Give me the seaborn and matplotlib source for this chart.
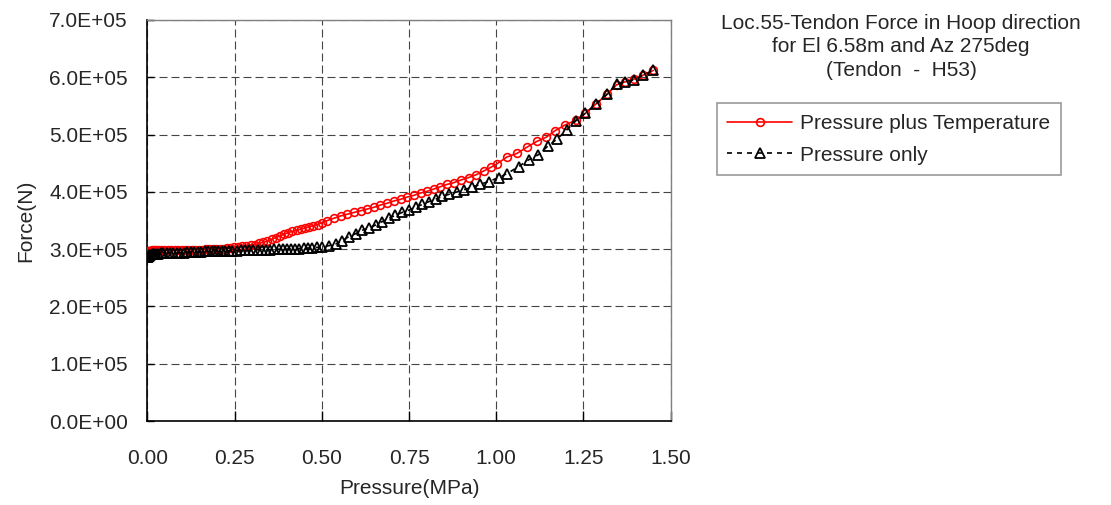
import matplotlib
matplotlib.use("Agg")
import matplotlib.pyplot as plt
from matplotlib.ticker import FuncFormatter, MultipleLocator
import seaborn as sns
import pandas as pd

# Pressure plus Temperature case: internal pressure (MPa) vs tendon force (N)
pt_pressure = [
    0.000, 0.003, 0.006, 0.010, 0.014, 0.019, 0.025, 0.032, 0.040, 0.049,
    0.058, 0.068, 0.078, 0.088, 0.098, 0.108, 0.118, 0.128, 0.138, 0.148,
    0.158, 0.168, 0.178, 0.188, 0.198, 0.208, 0.218, 0.228, 0.238, 0.248,
    0.260, 0.272, 0.284, 0.296, 0.308, 0.320, 0.332, 0.344, 0.356, 0.368,
    0.380, 0.392, 0.404, 0.416, 0.428, 0.440, 0.452, 0.464, 0.476, 0.488,
    0.500, 0.516, 0.535, 0.554, 0.573, 0.592, 0.611, 0.630, 0.649, 0.668,
    0.687, 0.706, 0.726, 0.745, 0.764, 0.783, 0.802, 0.821, 0.840, 0.859,
    0.878, 0.900, 0.921, 0.943, 0.966, 0.985, 1.002, 1.031, 1.059, 1.088,
    1.116, 1.142, 1.169, 1.198, 1.228, 1.255, 1.285, 1.317, 1.345, 1.369,
    1.396, 1.422, 1.450,
]
pt_force = [
    2.94e5, 2.96e5, 2.97e5, 2.97e5, 2.98e5, 2.98e5, 2.98e5, 2.98e5, 2.98e5, 2.98e5,
    2.98e5, 2.98e5, 2.98e5, 2.98e5, 2.98e5, 2.99e5, 2.99e5, 2.99e5, 2.99e5, 2.99e5,
    2.99e5, 3.00e5, 3.00e5, 3.00e5, 3.00e5, 3.01e5, 3.01e5, 3.02e5, 3.02e5, 3.03e5,
    3.04e5, 3.05e5, 3.06e5, 3.07e5, 3.08e5, 3.10e5, 3.12e5, 3.14e5, 3.17e5, 3.20e5,
    3.23e5, 3.26e5, 3.29e5, 3.31e5, 3.33e5, 3.35e5, 3.37e5, 3.39e5, 3.41e5, 3.43e5,
    3.46e5, 3.50e5, 3.54e5, 3.58e5, 3.61e5, 3.64e5, 3.67e5, 3.70e5, 3.73e5, 3.77e5,
    3.80e5, 3.84e5, 3.87e5, 3.91e5, 3.94e5, 3.98e5, 4.01e5, 4.05e5, 4.09e5, 4.13e5,
    4.16e5, 4.21e5, 4.25e5, 4.30e5, 4.37e5, 4.43e5, 4.49e5, 4.61e5, 4.67e5, 4.78e5,
    4.88e5, 4.95e5, 5.07e5, 5.17e5, 5.25e5, 5.37e5, 5.53e5, 5.70e5, 5.87e5, 5.92e5,
    5.97e5, 6.04e5, 6.12e5,
]

# Pressure only case
p_pressure = [
    0.000, 0.002, 0.004, 0.006, 0.009, 0.012, 0.016, 0.020, 0.025, 0.031,
    0.038, 0.046, 0.055, 0.064, 0.074, 0.084, 0.094, 0.104, 0.114, 0.124,
    0.134, 0.144, 0.154, 0.164, 0.174, 0.184, 0.194, 0.204, 0.214, 0.224,
    0.234, 0.244, 0.256, 0.268, 0.280, 0.292, 0.304, 0.316, 0.328, 0.340,
    0.352, 0.364, 0.376, 0.388, 0.400, 0.412, 0.424, 0.436, 0.448, 0.460,
    0.472, 0.486, 0.501, 0.520, 0.540, 0.559, 0.578, 0.597, 0.616, 0.635,
    0.654, 0.673, 0.692, 0.711, 0.730, 0.749, 0.769, 0.788, 0.807, 0.826,
    0.845, 0.866, 0.888, 0.909, 0.930, 0.954, 0.978, 1.007, 1.031, 1.064,
    1.093, 1.121, 1.148, 1.174, 1.202, 1.228, 1.255, 1.285, 1.317, 1.345,
    1.369, 1.396, 1.422, 1.450,
]
p_force = [
    2.86e5, 2.87e5, 2.88e5, 2.89e5, 2.90e5, 2.91e5, 2.91e5, 2.92e5, 2.92e5, 2.92e5,
    2.93e5, 2.93e5, 2.93e5, 2.93e5, 2.94e5, 2.94e5, 2.94e5, 2.94e5, 2.95e5, 2.95e5,
    2.95e5, 2.95e5, 2.95e5, 2.96e5, 2.96e5, 2.96e5, 2.96e5, 2.96e5, 2.97e5, 2.97e5,
    2.97e5, 2.97e5, 2.97e5, 2.98e5, 2.98e5, 2.98e5, 2.98e5, 2.99e5, 2.99e5, 2.99e5,
    2.99e5, 3.00e5, 3.00e5, 3.00e5, 3.00e5, 3.01e5, 3.01e5, 3.01e5, 3.02e5, 3.02e5,
    3.02e5, 3.03e5, 3.04e5, 3.06e5, 3.09e5, 3.15e5, 3.22e5, 3.27e5, 3.33e5, 3.37e5,
    3.42e5, 3.48e5, 3.54e5, 3.59e5, 3.64e5, 3.68e5, 3.73e5, 3.78e5, 3.83e5, 3.87e5,
    3.92e5, 3.96e5, 4.00e5, 4.04e5, 4.08e5, 4.13e5, 4.18e5, 4.25e5, 4.32e5, 4.44e5,
    4.56e5, 4.65e5, 4.80e5, 4.92e5, 5.08e5, 5.24e5, 5.37e5, 5.53e5, 5.70e5, 5.88e5,
    5.92e5, 5.96e5, 6.04e5, 6.12e5,
]

series_labels = ["Pressure plus Temperature", "Pressure only"]
title_lines = ["Loc.55-Tendon Force in Hoop direction",
               "for El 6.58m and Az 275deg",
               "(Tendon  -  H53)"]

FS = 15

sns.set_style("white")
plt.rcParams["font.family"] = ["Liberation Sans", "DejaVu Sans"]

fig = plt.figure(figsize=(11.11, 5.05), dpi=100)
ax = fig.add_axes([0.1326, 0.1663, 0.4711, 0.7941])

df_pt = pd.DataFrame({"Pressure": pt_pressure, "Force": pt_force})
df_p = pd.DataFrame({"Pressure": p_pressure, "Force": p_force})

sns.lineplot(data=df_pt, x="Pressure", y="Force", ax=ax, sort=False,
             estimator=None, color="#ff0000", lw=1.2, marker="o", ms=5.6,
             mfc="none", mec="#ff0000", mew=1.2, label=series_labels[0],
             zorder=3)
sns.lineplot(data=df_p, x="Pressure", y="Force", ax=ax, sort=False,
             estimator=None, color="black", lw=1.2, marker="^", ms=6.8,
             mfc="none", mec="black", mew=1.3, label=series_labels[1],
             dashes=False, zorder=4)
ax.lines[-1].set_linestyle((0, (3, 3)))

ax.set_xlim(0, 1.5)
ax.set_ylim(0, 7.0e5)
ax.xaxis.set_major_locator(MultipleLocator(0.25))
ax.yaxis.set_major_locator(MultipleLocator(1.0e5))
ax.xaxis.set_major_formatter(FuncFormatter(lambda v, p: f"{v:.2f}"))
ax.yaxis.set_major_formatter(FuncFormatter(lambda v, p: f"{v:.1E}"))

ax.grid(True, color="#444444", lw=0.8, linestyle=(0, (7.2, 3.6)))
ax.set_axisbelow(True)

for side in ("top", "right"):
    ax.spines[side].set_color("#808080")
    ax.spines[side].set_linewidth(1.0)
for side in ("left", "bottom"):
    ax.spines[side].set_color("black")
    ax.spines[side].set_linewidth(1.2)

ax.tick_params(axis="y", direction="in", length=5, width=1, color="black",
               labelsize=FS, pad=14)
ax.tick_params(axis="x", direction="in", length=7, width=1, color="black",
               labelsize=FS, pad=20)
ax.tick_params(left=True, bottom=True)

ax.set_xlabel("Pressure(MPa)", fontsize=FS, labelpad=8)
ax.set_ylabel("Force(N)", fontsize=FS, labelpad=10)

fig.text(0.811, 0.972, "\n".join(title_lines), ha="center", va="top",
         fontsize=FS, linespacing=1.28)

ax.get_legend().remove()
handles, labels = ax.get_legend_handles_labels()
leg = fig.legend(handles, labels, loc="upper left",
                 bbox_to_anchor=(0.645, 0.7955), borderaxespad=0,
                 fontsize=FS, frameon=True, fancybox=False,
                 edgecolor="#808080", handlelength=3.1, handletextpad=0.4,
                 labelspacing=0.6, borderpad=0.52, markerscale=1.0)
leg.get_frame().set_linewidth(1.2)

fig.savefig("out.png", dpi=100)
